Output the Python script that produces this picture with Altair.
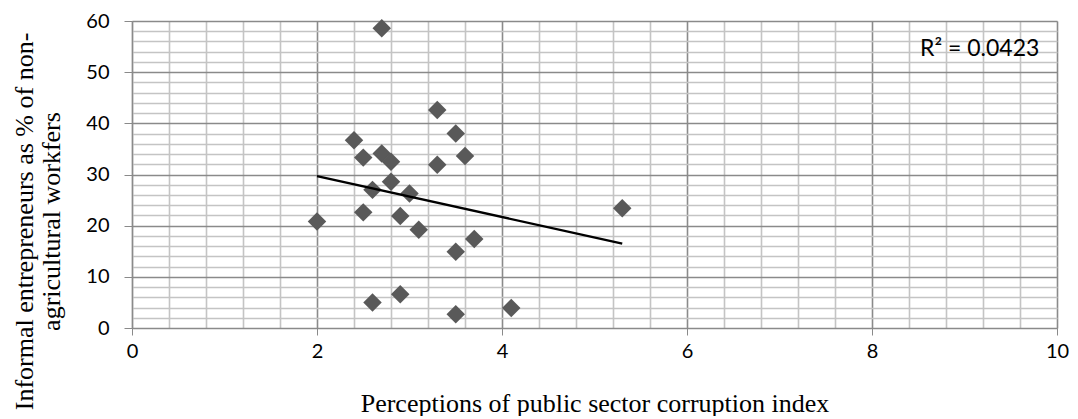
import altair as alt
import pandas as pd

# Data
corruption_index = [2.7, 3.3, 2.4, 3.5, 2.5, 2.7, 2.8, 3.3, 3.6, 2.8, 2.6, 3.0,
                    2.0, 2.5, 2.9, 3.1, 3.7, 3.5, 5.3, 2.6, 2.9, 3.5, 4.1]
informal_share = [58.6, 42.6, 36.7, 38.0, 33.3, 34.1, 32.5, 31.9, 33.6, 28.6, 27.0, 26.3,
                  20.8, 22.6, 21.9, 19.2, 17.4, 14.9, 23.4, 5.0, 6.6, 2.7, 3.9]

x_ticks = [round(i * 0.4, 1) for i in range(0, 26)]
y_ticks = [i * 2 for i in range(0, 31)]
r2_label = ["R\u00b2 = 0.0423"]

df = pd.DataFrame({"x": corruption_index, "y": informal_share})

MAJOR = "#8a8a8a"
MINOR = "#c4c4c4"

x_enc = alt.X(
    "x:Q",
    scale=alt.Scale(domain=[0, 10], nice=False, zero=True),
    axis=alt.Axis(
        values=x_ticks,
        labelExpr="datum.value % 2 === 0 ? format(datum.value, 'd') : ''",
        labelOverlap=False,
        labelFlush=False,
        labelFont="Lato",
        labelFontSize=20,
        labelColor="#000000",
        labelPadding=6,
        tickSize=7,
        tickColor={"condition": {"test": "datum.value % 2 === 0", "value": MAJOR}, "value": "transparent"},
        gridColor={"condition": {"test": "datum.value % 2 === 0", "value": MAJOR}, "value": MINOR},
        gridWidth=1.6,
        gridOpacity=1,
        domainColor=MAJOR,
        domainWidth=1.2,
        title="Perceptions of public sector corruption index",
        titleFont="Liberation Serif",
        titleFontSize=26,
        titleFontWeight="normal",
        titleColor="#000000",
        titleBaseline="alphabetic",
        titleY=83,
    ),
)

y_enc = alt.Y(
    "y:Q",
    scale=alt.Scale(domain=[0, 60], nice=False, zero=True),
    axis=alt.Axis(
        values=y_ticks,
        labelExpr="datum.value % 10 === 0 ? format(datum.value, 'd') : ''",
        labelOverlap=False,
        labelFlush=False,
        labelFont="Lato",
        labelFontSize=20,
        labelColor="#000000",
        labelPadding=15,
        tickSize=8,
        tickColor={"condition": {"test": "datum.value % 10 === 0", "value": MAJOR}, "value": "transparent"},
        gridColor={"condition": {"test": "datum.value % 10 === 0", "value": MAJOR}, "value": MINOR},
        gridWidth=1.6,
        gridOpacity=1,
        domainColor=MAJOR,
        domainWidth=1.2,
        title=["Informal entrepreneurs as % of non-", "agricultural workfers"],
        titleFont="Liberation Serif",
        titleFontSize=26,
        titleFontWeight="normal",
        titleColor="#000000",
        titleLineHeight=27,
        titleAngle=270,
        titleBaseline="middle",
        titleX=-108,
        titleY=200,
    ),
)

points = alt.Chart(df).mark_point(
    shape="diamond", filled=True, size=340, color="#595959", opacity=1
).encode(x=x_enc, y=y_enc)

trend = alt.Chart(df).transform_regression("x", "y").mark_line(
    color="#000000", strokeWidth=2.4
).encode(x=x_enc, y=y_enc)

r2 = alt.Chart(pd.DataFrame({"t": r2_label})).mark_text(
    font="Lato", fontSize=23, color="#000000", align="left", baseline="middle"
).encode(text="t:N", x=alt.value(788), y=alt.value(28))

chart = alt.layer(points, trend, r2).properties(
    width=925,
    height=307,
    autosize=alt.AutoSizeParams(type="none"),
    padding={"left": 124, "top": 13, "right": 12, "bottom": 88},
).configure_view(stroke=None).configure(background="white")

chart.save("out.html", embed_options={"renderer": "svg", "actions": False})
